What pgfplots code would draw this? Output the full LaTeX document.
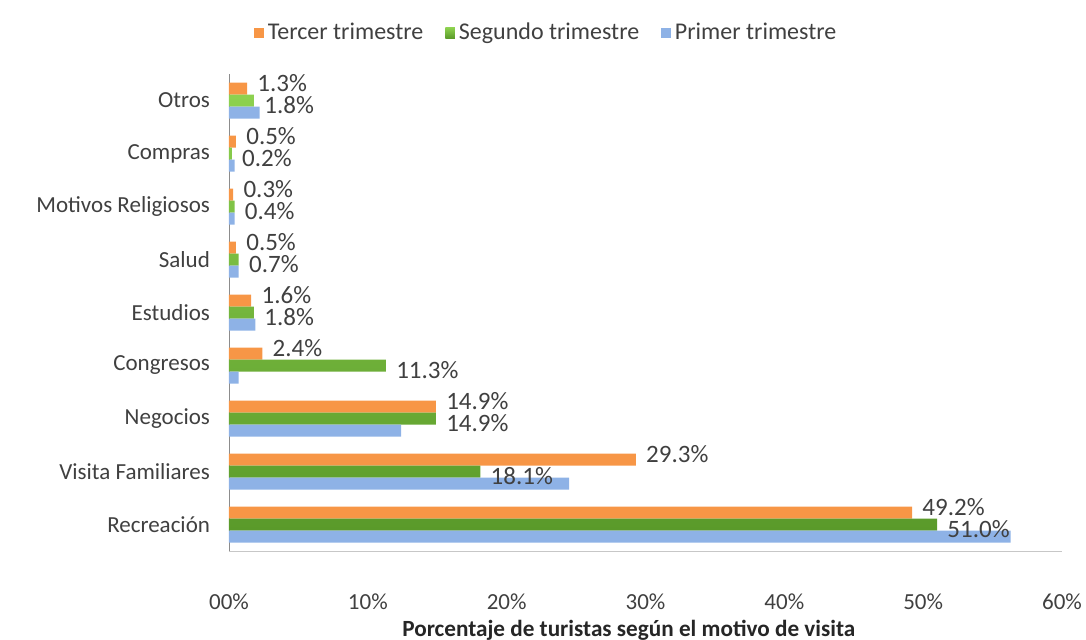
\documentclass[border=0pt]{standalone}
\usepackage{fontspec}
\setmainfont{Carlito}
\usepackage{pgfplots}
\pgfplotsset{compat=1.18}
\definecolor{tercer}{HTML}{F79646}
\definecolor{segundo}{HTML}{8DD14F}
\definecolor{segundodark}{HTML}{5A9A2A}
\definecolor{primer}{HTML}{8EB2E6}
\definecolor{txt}{HTML}{404040}

\begin{document}
\begin{tikzpicture}
% page = 1086x639 px at 0.5pt per px, plot area lower left at (0,0)
\useasboundingbox (-114.5pt,-44pt) rectangle (428.5pt,275.5pt);
\begin{axis}[
scale only axis,width=416.5pt,height=238.5pt,
xbar,bar width=6pt,
xmin=0,xmax=60,ymin=-0.5,ymax=8.5,
xtick={0,10,...,60},
xticklabels={00\%,10\%,20\%,30\%,40\%,50\%,60\%},
ytick={0,...,8},
yticklabels={Recreación,Visita Familiares,Negocios,Congresos,Estudios,Salud,Motivos Religiosos,Compras,Otros},
major tick length=0pt,
axis x line*=bottom,axis y line*=left,
x axis line style={-,draw=black!22},
y axis line style={-,draw=black!45},
tick label style={font=\fontsize{11.5}{13}\selectfont,text=txt},
xticklabel style={yshift=-18pt},
yticklabel style={xshift=-6pt},
xlabel={Porcentaje de turistas según el motivo de visita},
xlabel style={font=\fontsize{11.6}{13}\selectfont\bfseries,text=black!85,at={(axis description cs:0.48,0)},anchor=center,yshift=-39.5pt},
legend columns=3,
legend style={draw=none,fill=none,at={(axis description cs:0.382,1)},anchor=center,yshift=20.5pt,
  font=\fontsize{12}{14}\selectfont,text=txt,
  /tikz/every even column/.append style={column sep=9pt}},
legend image code/.code={\fill[#1] (0pt,-2.7pt) rectangle (4.8pt,2.7pt);},
every node near coord/.append style={font=\fontsize{12.5}{14}\selectfont,text=txt,anchor=west,inner sep=1pt},
]
\addplot[bar shift=6pt,fill=tercer,draw=none,point meta=x,
  nodes near coords={\pgfmathprintnumber[fixed,fixed zerofill,precision=1,assume math mode=true]{\pgfplotspointmeta}\%},
  nodes near coords style={xshift=4pt,yshift=2.5pt}]
  coordinates {(49.2,0) (29.3,1) (14.9,2) (2.4,3) (1.6,4) (0.5,5) (0.3,6) (0.5,7) (1.3,8)};
\addplot[bar shift=0pt,top color=segundo,bottom color=segundodark,draw=none,point meta=x,
  nodes near coords={\pgfmathprintnumber[fixed,fixed zerofill,precision=1,assume math mode=true]{\pgfplotspointmeta}\%},
  nodes near coords style={xshift=4pt,yshift=-2.5pt}]
  coordinates {(51.0,0) (18.1,1) (14.9,2) (11.3,3) (1.8,4) (0.7,5) (0.4,6) (0.2,7) (1.8,8)};
\addplot[bar shift=-6pt,fill=primer,draw=none]
  coordinates {(56.3,0) (24.5,1) (12.4,2) (0.7,3) (1.9,4) (0.7,5) (0.4,6) (0.4,7) (2.2,8)};
\legend{Tercer trimestre,Segundo trimestre,Primer trimestre}
\end{axis}
\end{tikzpicture}
\end{document}
